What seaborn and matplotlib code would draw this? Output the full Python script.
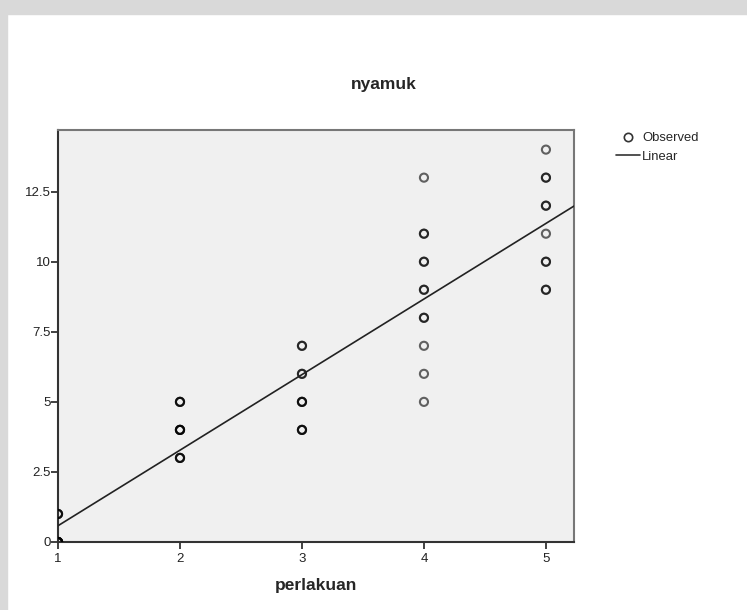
import numpy as np
import pandas as pd
import matplotlib
matplotlib.use("Agg")
import matplotlib.pyplot as plt
from matplotlib.patches import Rectangle
from matplotlib.lines import Line2D
import seaborn as sns

# treatment groups (perlakuan) and mosquito counts (nyamuk)
g1 = [0, 0, 0, 0, 0, 0, 0, 1, 1, 1]
g2 = [3, 3, 3, 4, 4, 4, 4, 5, 5, 5]
g3 = [4, 4, 4, 5, 5, 5, 6, 6, 7, 7]
g4 = [5, 6, 7, 8, 8, 9, 9, 10, 10, 11, 11, 13]
g5 = [9, 9, 10, 10, 11, 12, 12, 13, 13, 14]
groups = [1, 2, 3, 4, 5]
y_ticks = [0, 2.5, 5, 7.5, 10, 12.5]
y_labels = ["0", "2.5", "5", "7.5", "10", "12.5"]

rows = []
for g, vals in zip(groups, [g1, g2, g3, g4, g5]):
    for v in vals:
        rows.append((g, v))
data = pd.DataFrame(rows, columns=["perlakuan", "nyamuk"])

sns.set_style("white")
plt.rcParams["font.family"] = ["Liberation Sans", "DejaVu Sans"]

fig = plt.figure(figsize=(7.47, 6.10), dpi=100)

# grey page border from the scanned document
fig.patches.append(Rectangle((0, 0), 7 / 747, 1, transform=fig.transFigure,
                             color="#d9d9d9", zorder=0))
fig.patches.append(Rectangle((0, 1 - 14 / 610), 1, 14 / 610, transform=fig.transFigure,
                             color="#d9d9d9", zorder=0))

ax = fig.add_axes([58 / 747, 68 / 610, 516 / 747, 412 / 610])
ax.set_facecolor("#f0f0f0")
ax.set_xlim(1, 5.23)
ax.set_ylim(0, 14.7)

sns.scatterplot(data=data, x="perlakuan", y="nyamuk", ax=ax, marker="o",
                facecolor="none", edgecolor="black", linewidth=1.5, s=34,
                alpha=0.6, zorder=3)
sns.regplot(data=data, x="perlakuan", y="nyamuk", ax=ax, scatter=False,
            ci=None, truncate=False, color="#222222",
            line_kws={"linewidth": 1.2, "zorder": 4})

ax.set_xlim(1, 5.23)
ax.set_ylim(0, 14.7)
ax.set_xticks(groups)
ax.set_xticklabels([str(g) for g in groups])
ax.set_yticks(y_ticks)
ax.set_yticklabels(y_labels)
ax.tick_params(axis="both", direction="out", length=5, width=1.3, color="#333333",
               labelsize=9.5, labelcolor="#222222")
ax.tick_params(axis="x", bottom=True, pad=3)
ax.tick_params(axis="y", left=True, pad=0)

for side in ["left", "bottom"]:
    ax.spines[side].set_color("#333333")
    ax.spines[side].set_linewidth(1.5)
for side in ["top", "right"]:
    ax.spines[side].set_color("#777777")
    ax.spines[side].set_linewidth(1.5)

ax.set_ylabel("")
ax.set_xlabel("perlakuan", fontsize=12.5, fontweight="bold", labelpad=9)
fig.text(384 / 747, 1 - 89 / 610, "nyamuk", fontsize=12.5, fontweight="bold",
         ha="center", va="baseline")

handles = [
    Line2D([], [], marker="o", linestyle="none", markerfacecolor="none",
           markeredgecolor="#333333", markersize=6, markeredgewidth=1.2),
    Line2D([], [], color="#333333", linewidth=1.2),
]
fig.legend(handles, ["Observed", "Linear"], loc="upper left",
           bbox_to_anchor=(616 / 747, 1 - 132 / 610), frameon=False,
           fontsize=9.4, handlelength=1.8, handletextpad=0.2,
           labelspacing=0.5, borderpad=0, borderaxespad=0)

fig.savefig("out.png", dpi=100)
